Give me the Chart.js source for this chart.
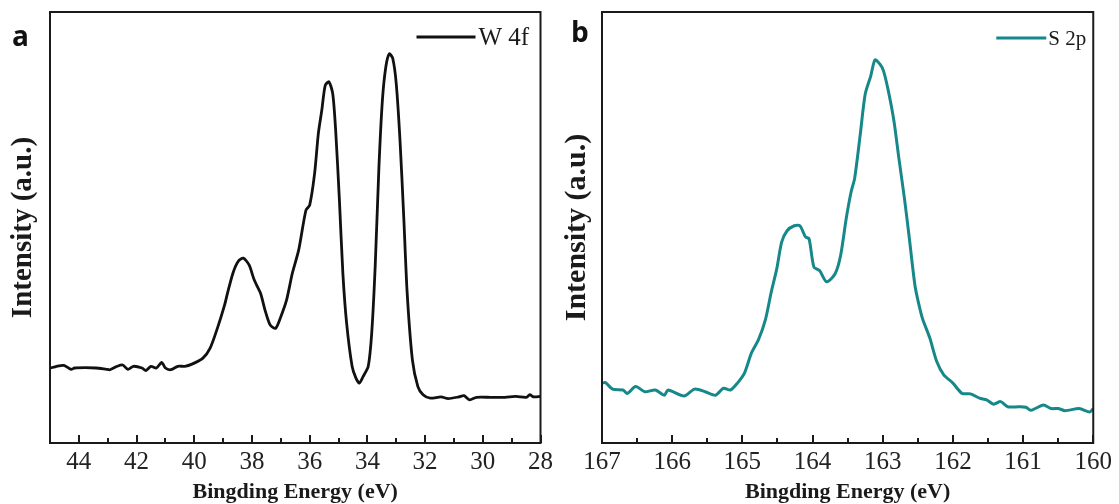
<!DOCTYPE html>
<html>
<head>
<meta charset="utf-8">
<script src="https://cdn.jsdelivr.net/npm/chart.js@4.4.1/dist/chart.umd.min.js"></script>
<style>
  html, body { margin: 0; padding: 0; background: #ffffff; }
  body { width: 1119px; height: 504px; position: relative; overflow: hidden; }
  .panel { position: absolute; top: 0; height: 504px; }
  #pa { left: 0; width: 560px; }
  #pb { left: 560px; width: 559px; }
  .lbl { position: absolute; font-family: "Open Sans", "Liberation Sans", sans-serif; font-weight: 700; font-size: 28px; line-height: 1; color: #111; }
</style>
</head>
<body>
<div class="panel" id="pa"><canvas id="ca"></canvas></div>
<div class="panel" id="pb"><canvas id="cb"></canvas></div>
<div class="lbl" style="left:12px; top:21px;">a</div>
<div class="lbl" style="left:571px; top:17px;">b</div>
<script>
// ---------- Panel a: W 4f ----------
const wEnergy = [44.98,44.77,44.52,44.27,44.15,43.78,43.41,43.04,42.92,42.67,42.48,42.30,42.11,41.81,41.68,41.50,41.31,41.13,41.00,40.82,40.57,40.33,40.08,
  39.70,39.45,39.20,38.95,38.85,38.66,38.48,38.30,38.10,37.92,37.70,37.55,37.37,37.18,37.00,36.80,36.60,36.38,36.13,36.00,35.83,35.70,35.58,35.46,35.33,35.20,35.10,34.97,34.85,34.72,34.53,34.40,34.28,34.15,33.97,33.85,33.73,33.60,33.48,33.36,33.24,33.12,33.00,32.87,32.74,32.62,32.44,32.25,32.07,
  31.82,31.45,31.20,30.83,30.65,30.46,30.22,29.72,29.23,28.86,28.49,28.37,28.24,28.00];
const wIntensity = [17.4,17.8,18.0,17.1,17.4,17.5,17.4,17.1,17.0,17.8,18.1,17.1,17.8,17.4,16.8,17.8,17.4,18.7,17.4,17.0,17.8,17.8,18.3,
  19.7,22.0,26.6,32.0,34.7,39.4,42.1,42.9,41.3,37.8,34.7,30.9,27.4,26.6,29.3,33.2,39.4,44.8,54.0,55.2,62.5,71.8,77.2,83.0,83.8,81.0,72.6,56.4,39.4,27.8,17.8,15.1,13.9,15.4,17.8,25.5,40.9,64.0,79.5,87.3,90.3,89.2,83.4,70.3,52.5,34.7,19.3,13.1,11.2,
  10.4,10.7,10.3,10.7,11.0,10.0,10.6,10.6,10.6,10.8,10.6,11.2,10.7,10.8];
const wMajorTicks = [44,42,40,38,36,34,32,30,28];
const wMinorTicks = [45,43,41,39,37,35,33,31,29];

// ---------- Panel b: S 2p ----------
const sEnergy = [167.00,166.95,166.85,166.70,166.64,166.52,166.39,166.24,166.11,166.06,165.83,165.68,165.53,165.38,165.27,165.17,165.07,164.97,164.87,164.77,164.67,164.59,164.51,164.44,164.36,164.26,164.18,164.10,164.05,163.98,163.90,163.80,163.68,163.60,163.52,163.45,163.40,163.32,163.25,163.17,163.11,163.04,162.99,162.92,162.84,162.77,162.69,162.62,162.54,162.48,162.43,162.33,162.23,162.13,162.00,161.87,161.75,161.62,161.52,161.42,161.32,161.22,161.06,160.96,160.89,160.71,160.60,160.50,160.40,160.20,160.05,160.00];
const sIntensity = [13.9,14.0,12.5,12.3,11.5,13.1,11.9,12.3,11.1,12.3,10.9,12.5,11.9,11.1,12.7,12.3,13.9,16.2,20.9,24.0,28.7,34.9,40.4,46.6,49.3,50.4,50.4,47.8,47.4,40.8,40.0,37.4,39.2,43.5,52.1,58.3,61.4,71.6,80.9,85.2,88.9,87.9,86.4,81.7,74.7,66.1,56.7,47.4,36.5,31.8,28.7,24.4,18.9,15.8,13.9,11.5,11.4,10.4,10.0,9.0,9.6,8.4,8.4,8.3,7.6,8.8,8.0,8.0,7.5,8.0,7.2,8.0];
const sMajorTicks = [167,166,165,164,163,162,161,160];
const sMinorTicks = [166.5,165.5,164.5,163.5,162.5,161.5,160.5];

const xTitle = 'Bingding Energy (eV)';
const yTitle = 'Intensity (a.u.)';
const serif = '"Liberation Serif", "Times New Roman", serif';

const framePlugin = {
  id: 'frameTicks',
  afterDraw(chart, args, opts) {
    const {ctx, chartArea: a} = chart;
    const xs = chart.scales.x;
    ctx.save();
    ctx.strokeStyle = '#1a1a1a';
    ctx.lineWidth = 2;
    ctx.strokeRect(a.left, a.top, a.right - a.left, a.bottom - a.top);
    const drawT = (vals, len) => {
      vals.forEach(v => {
        const px = Math.round(xs.getPixelForValue(v));
        ctx.beginPath();
        ctx.moveTo(px, a.bottom);
        ctx.lineTo(px, a.bottom - len);
        ctx.stroke();
      });
    };
    drawT(opts.major, 8);
    drawT(opts.minor, 5);
    // inset legend
    const ds = chart.data.datasets[0];
    const L = opts.legend;
    ctx.strokeStyle = ds.borderColor;
    ctx.lineWidth = 3;
    ctx.beginPath();
    ctx.moveTo(a.right - L.x1, L.y);
    ctx.lineTo(a.right - L.x2, L.y);
    ctx.stroke();
    ctx.fillStyle = '#1a1a1a';
    ctx.font = L.size + 'px ' + serif;
    ctx.textBaseline = 'middle';
    ctx.textAlign = 'left';
    ctx.fillText(ds.label, a.right - L.tx, L.y + 1);
    ctx.restore();
  }
};

function makeChart(id, label, color, width, energy, intensity, xmin, xmax, major, minor, pad, yW, yTitleSize, yTitlePad, legend) {
  return new Chart(document.getElementById(id), {
    type: 'line',
    data: {
      datasets: [{
        label: label,
        data: energy.map((e, i) => ({x: e, y: intensity[i]})),
        borderColor: color,
        borderWidth: width,
        pointRadius: 0,
        tension: 0.25,
        fill: false
      }]
    },
    options: {
      responsive: true,
      maintainAspectRatio: false,
      animation: false,
      devicePixelRatio: 1,
      layout: { padding: pad },
      plugins: {
        legend: { display: false },
        tooltip: { enabled: false },
        frameTicks: { major: major, minor: minor, legend: legend }
      },
      scales: {
        x: {
          type: 'linear',
          min: xmin, max: xmax,
          reverse: true,
          afterBuildTicks: s => { s.ticks = major.map(v => ({value: v})); },
          afterFit: s => { s.height = 504 - 443; },
          grid: { display: false, drawTicks: false },
          border: { display: false },
          ticks: { color: '#222', padding: 7, maxRotation: 0, autoSkip: false,
                   font: { family: serif, size: 25, lineHeight: 1 } },
          title: { display: true, text: xTitle, color: '#1a1a1a',
                   font: { family: serif, size: 22, weight: 'bold', lineHeight: 1 },
                   padding: { top: 0, bottom: 1 } }
        },
        y: {
          min: 0, max: 100,
          afterFit: s => { s.width = yW; },
          grid: { display: false, drawTicks: false },
          border: { display: false },
          ticks: { display: false },
          title: { display: true, text: yTitle, color: '#1a1a1a',
                   font: { family: serif, size: yTitleSize, weight: 'bold', lineHeight: 1 },
                   padding: { top: yTitlePad, bottom: 0 } }
        }
      }
    },
    plugins: [framePlugin]
  });
}

makeChart('ca', 'W 4f', '#111111', 2.8, wEnergy, wIntensity, 28, 45, wMajorTicks, wMinorTicks,
  { top: 12, right: 18, left: 0, bottom: 0 }, 50, 29, 9,
  { x1: 124, x2: 65, tx: 62, y: 37, size: 25 });
makeChart('cb', 'S 2p', '#17888a', 3, sEnergy, sIntensity, 160, 167, sMajorTicks, sMinorTicks,
  { top: 12, right: 24, left: 0, bottom: 0 }, 42, 30, 2,
  { x1: 97, x2: 47, tx: 45, y: 38, size: 21 });
</script>
</body>
</html>
